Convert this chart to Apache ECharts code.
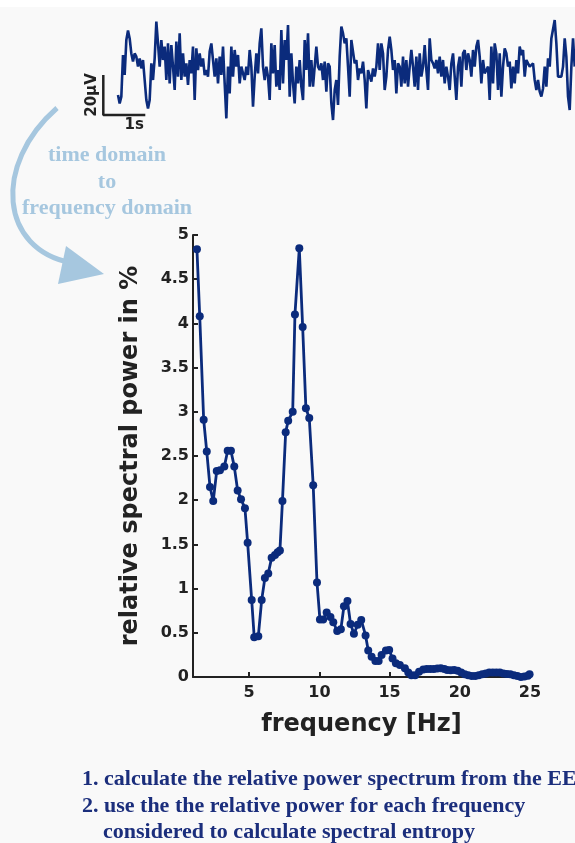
<!DOCTYPE html>
<html><head><meta charset="utf-8">
<script src="https://cdn.jsdelivr.net/npm/echarts@6/dist/echarts.min.js"></script>
<style>html,body{margin:0;padding:0;background:#f9f9f9;}#c{width:575px;height:843px;}</style>
</head><body><div id="c"></div>
<script>
// ---- EEG trace (microvolts, uniformly sampled) ----
const eegFs = 25.2; // samples per second
const eegMicroV = [
-12.5,-16.7,-13.3,7.5,-2.5,15,19.7,15.8,8.3,4.2,
8.3,6.7,1.7,5.8,0.8,5,-5,-15,-19.2,-15,
3.3,-5,5.8,24.2,13.3,1.7,15,5,11.7,-5,
13.3,-6.7,12.5,1.7,-10,14.2,-3.3,18.3,-5,8.3,
-3.3,3.3,-7.5,5,-1.7,11.7,-15,10.8,0,8.3,
1.7,5.8,-2.5,0,-3.3,9.2,13.3,5,-3.3,5.8,
-6.7,6.7,-2.5,11.7,-6.7,-24.2,1.7,-11.7,11.7,-3.3,
10,1.7,7.5,-6.7,1.7,-1.7,-5,1.7,-2.5,10,
1.7,-18.3,-3.3,8.3,-1.7,13.3,20.8,1.7,-5,1.7,
-3.3,-15,13.3,-1.7,12.5,-8.3,0,-10,20,-6.7,
15,5,22.5,-13.3,8.3,-6.7,-16.7,1.7,-6.7,5,
-8.3,-15,15,0,18.3,-8.3,5,-8.3,1.7,11.7,1.7,
0,3.3,-5,4.2,-10.8,3.3,1.7,-16.7,-25,-10,
-5,-17.5,6.7,21.7,18.3,13.3,15.8,1.7,-13.3,15,
15.8,3.3,5,-5,0.8,-1.7,4.2,-5,-19.2,0,
0.8,-5.8,0.8,-3.3,1.7,13.3,0,13.3,8.3,-10,
-3.3,10,16.7,10,0,5,-11.7,3.3,1.7,-8.3,
6.7,-6.7,5,-8.3,1.7,10,1.7,-8.3,6.7,-10,
8.3,-3.3,1.7,12.5,0,-10,15.8,5,3.3,0.8,
5,-1.7,6.7,-3.3,5,-6.7,1.7,-3.3,-10,3.3,
8.3,-3.3,-15,1.7,6.7,-8.3,8.3,10,0,8.3,
5,-3.3,10,1.7,11.7,15,6.7,-6.7,5,-1.7,
0,1.7,-15,11.7,-6.7,13.3,8.3,-10,8.3,-13.3,
1.7,10.8,8.3,1.7,4.2,-9.2,1.7,-6.7,5,-1.7,
11.7,7.5,10,-3.3,5,3.3,1.7,0.8,3.3,-5,
-10,-5,-10.8,-13.3,-9.2,1.7,-8.3,5.8,1.7,15.8,
16.7,25,13.3,-3.3,-2.5,-3.3,1.7,15.8,6.7,-13.3,
-20,1.7,15.8,1.7
];
// scale bar: 1 s by 20 µV
const scaleBarStart = -0.35;   // s
const scaleBarBase = -22.5;    // µV
const scaleBarDur = 1;         // s
const scaleBarAmp = 20;        // µV
const scaleBarLabels = ['20\u03bcV', '1s'];

// ---- relative power spectrum ----
const specFreq = [1.28,1.48,1.76,1.98,2.21,2.44,2.69,2.92,3.23,3.47,3.70,3.94,4.18,4.42,4.70,4.89,5.18,5.36,5.65,5.89,6.12,6.36,6.60,6.84,7.03,7.19,7.37,7.60,7.78,8.10,8.26,8.57,8.81,9.04,9.28,9.56,9.83,10.04,10.27,10.52,10.79,10.99,11.27,11.53,11.75,12.00,12.22,12.46,12.73,12.98,13.29,13.48,13.72,13.99,14.22,14.43,14.74,14.97,15.21,15.45,15.73,16.09,
16.33,16.55,16.82,17.1,17.4,17.65,17.9,18.15,18.4,18.65,18.9,19.1,19.35,19.6,19.85,20.1,20.35,20.6,20.85,21.1,21.35,21.6,21.85,22.1,22.35,22.6,22.85,23.1,23.35,23.6,23.85,24.1,24.35,24.6,24.85,24.97];
const specPower = [4.84,4.08,2.91,2.55,2.15,1.99,2.33,2.34,2.38,2.56,2.56,2.38,2.11,2.01,1.91,1.52,0.87,0.45,0.46,0.87,1.12,1.17,1.35,1.38,1.41,1.43,1.99,2.77,2.90,3.00,4.10,4.85,3.96,3.04,2.93,2.17,1.07,0.65,0.65,0.73,0.68,0.62,0.52,0.54,0.80,0.86,0.60,0.49,0.59,0.645,0.47,0.30,0.23,0.18,0.18,0.25,0.30,0.305,0.21,0.155,0.135,0.10,
0.05,0.02,0.02,0.06,0.085,0.09,0.09,0.09,0.095,0.10,0.09,0.08,0.075,0.08,0.07,0.05,0.03,0.02,0.01,0.01,0.02,0.03,0.04,0.05,0.05,0.05,0.05,0.04,0.035,0.03,0.02,0.01,0.00,0.005,0.015,0.03];
const specXTicks = [5, 10, 15, 20, 25];
const specXRange = [1, 25];
const specYRange = [0, 5];
const specYStep = 0.5;
const xTitle = 'frequency [Hz]';
const yTitle = 'relative spectral power in %';

// ---- annotation texts ----
const arrowTexts = ['time domain', 'to', 'frequency domain'];
const noteLines = ['1. calculate the relative power spectrum from the EEG',
                   '2. use the the relative power for each frequency',
                   'considered to calculate spectral entropy'];

const navy = '#0b2b7c';
const dark = '#222222';
const sans = '"DejaVu Sans", Verdana, sans-serif';
const serif = '"Liberation Serif", "Times New Roman", serif';

const chart = echarts.init(document.getElementById('c'));
chart.setOption({
  backgroundColor: '#f9f9f9',
  animation: false,
  grid: [
    {left: 101.2, top: 10, width: 473.5, height: 120},
    {left: 193, top: 235, width: 337, height: 442}
  ],
  xAxis: [
    {gridIndex: 0, type: 'value', min: -0.4, max: (eegMicroV.length - 1) / eegFs, show: false},
    {gridIndex: 1, type: 'value', min: specXRange[0], max: specXRange[1],
     name: xTitle, nameLocation: 'middle', nameGap: 36,
     nameTextStyle: {fontFamily: sans, fontWeight: 'bold', fontSize: 24, color: dark},
     axisLine: {lineStyle: {color: dark, width: 2}},
     axisTick: {inside: true, length: 5, customValues: specXTicks, lineStyle: {color: dark, width: 2}},
     axisLabel: {customValues: specXTicks, margin: 8, fontFamily: sans, fontWeight: 'bold', fontSize: 16, color: dark},
     splitLine: {show: false}}
  ],
  yAxis: [
    {gridIndex: 0, type: 'value', min: -30, max: 30, show: false},
    {gridIndex: 1, type: 'value', min: specYRange[0], max: specYRange[1], interval: specYStep,
     name: yTitle, nameLocation: 'middle', nameGap: 50, nameRotate: 90,
     nameTextStyle: {fontFamily: sans, fontWeight: 'bold', fontSize: 24, color: dark},
     axisLine: {show: true, lineStyle: {color: dark, width: 2}},
     axisTick: {show: true, inside: true, length: 5, lineStyle: {color: dark, width: 2}},
     axisLabel: {margin: 4, fontFamily: sans, fontWeight: 'bold', fontSize: 16, color: dark},
     splitLine: {show: false}}
  ],
  series: [
    {type: 'line', xAxisIndex: 0, yAxisIndex: 0, showSymbol: false, symbol: 'none',
     data: eegMicroV.map((v, i) => [i / eegFs, v]),
     lineStyle: {color: navy, width: 2.6}},
    {type: 'line', xAxisIndex: 0, yAxisIndex: 0, symbol: 'none', clip: false,
     data: [[scaleBarStart, scaleBarBase + scaleBarAmp], [scaleBarStart, scaleBarBase], [scaleBarStart + scaleBarDur, scaleBarBase]],
     lineStyle: {color: dark, width: 2.5}},
    {type: 'line', xAxisIndex: 1, yAxisIndex: 1, symbol: 'circle', symbolSize: 8,
     data: specFreq.map((f, i) => [f, specPower[i]]),
     itemStyle: {color: navy}, lineStyle: {color: navy, width: 2.8}}
  ]
});

const vTop = chart.convertToPixel({gridIndex: 0}, [scaleBarStart, scaleBarBase + scaleBarAmp]);
const vBot = chart.convertToPixel({gridIndex: 0}, [scaleBarStart, scaleBarBase]);
const hEnd = chart.convertToPixel({gridIndex: 0}, [scaleBarStart + scaleBarDur, scaleBarBase]);

const lightBlue = '#a6c7df';
const noteColor = '#1b2e7c';
chart.setOption({
  graphic: [
    {type: 'rect', shape: {x: 0, y: 0, width: 575, height: 7}, style: {fill: '#ffffff'}, z: -10},
    {type: 'text', x: vTop[0] - 11, y: (vTop[1] + vBot[1]) / 2, rotation: Math.PI / 2,
     style: {text: scaleBarLabels[0], fontFamily: sans, fontWeight: 'bold', fontSize: 15, fill: dark, align: 'center', verticalAlign: 'middle'}},
    {type: 'text', x: (vBot[0] + hEnd[0]) / 2 + 10, y: vBot[1] + 10,
     style: {text: scaleBarLabels[1], fontFamily: sans, fontWeight: 'bold', fontSize: 15, fill: dark, align: 'center', verticalAlign: 'middle'}},
    {type: 'bezierCurve', shape: {x1: 57, y1: 108, cpx1: -8, cpy1: 165, cpx2: 0, cpy2: 250, x2: 72, y2: 263},
     style: {stroke: lightBlue, lineWidth: 5, fill: null}},
    {type: 'polygon', shape: {points: [[104, 274], [66, 246], [58, 284]]}, style: {fill: lightBlue}},
    {type: 'text', x: 107, y: 155, style: {text: arrowTexts[0], fontFamily: serif, fontWeight: 'bold', fontSize: 22, fill: lightBlue, align: 'center', verticalAlign: 'middle'}},
    {type: 'text', x: 107, y: 182, style: {text: arrowTexts[1], fontFamily: serif, fontWeight: 'bold', fontSize: 22, fill: lightBlue, align: 'center', verticalAlign: 'middle'}},
    {type: 'text', x: 107, y: 208, style: {text: arrowTexts[2], fontFamily: serif, fontWeight: 'bold', fontSize: 22, fill: lightBlue, align: 'center', verticalAlign: 'middle'}},
    {type: 'text', x: 82, y: 779, style: {text: noteLines[0], fontFamily: serif, fontWeight: 'bold', fontSize: 22, fill: noteColor, align: 'left', verticalAlign: 'middle'}},
    {type: 'text', x: 82, y: 806, style: {text: noteLines[1], fontFamily: serif, fontWeight: 'bold', fontSize: 22, fill: noteColor, align: 'left', verticalAlign: 'middle'}},
    {type: 'text', x: 103, y: 832, style: {text: noteLines[2], fontFamily: serif, fontWeight: 'bold', fontSize: 22, fill: noteColor, align: 'left', verticalAlign: 'middle'}}
  ]
});
</script>
</body></html>
